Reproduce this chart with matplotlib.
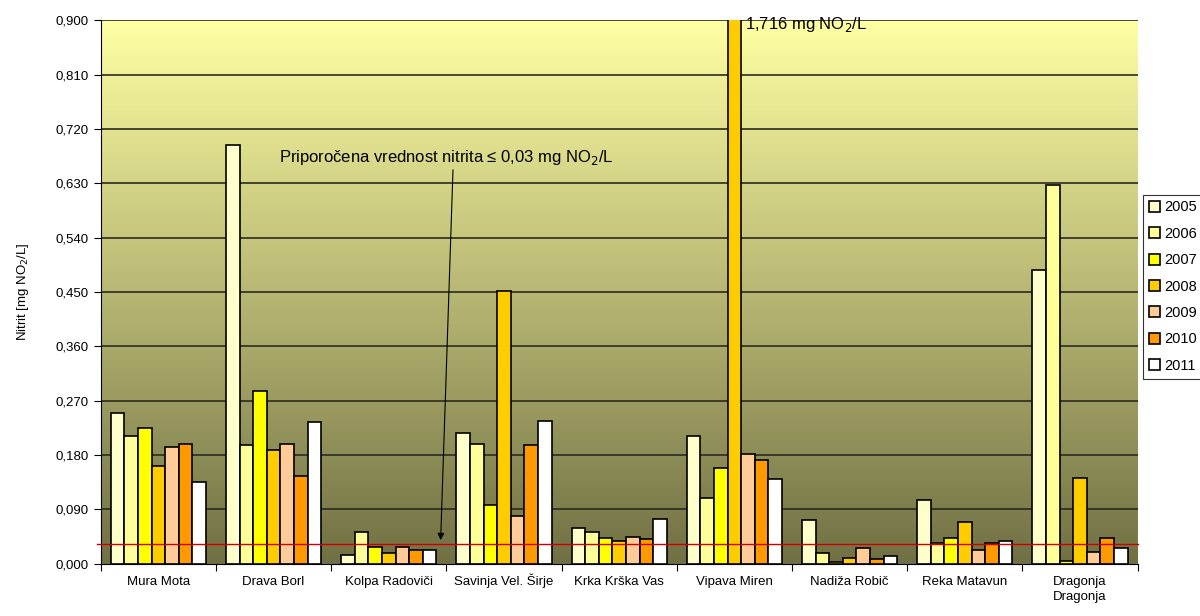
import numpy as np
import matplotlib
matplotlib.use('Agg')
import matplotlib.pyplot as plt
from matplotlib.colors import LinearSegmentedColormap

plt.rcParams['font.family'] = ['Liberation Sans', 'DejaVu Sans']

##-----     DATA     -----
stations = ['Mura Mota', 'Drava Borl', 'Kolpa Radoviči', 'Savinja Vel. Širje',
            'Krka Krška Vas', 'Vipava Miren', 'Nadiža Robič', 'Reka Matavun',
            'Dragonja\nDragonja']
years = ['2005', '2006', '2007', '2008', '2009', '2010', '2011']
v2005 = [0.249, 0.693, 0.015, 0.216, 0.059, 0.211, 0.073, 0.106, 0.486]
v2006 = [0.211, 0.196, 0.052, 0.198, 0.052, 0.109, 0.017, 0.034, 0.628]
v2007 = [0.224, 0.286, 0.027, 0.097, 0.042, 0.158, 0.002, 0.042, 0.005]
v2008 = [0.162, 0.188, 0.018, 0.451, 0.037, 1.716, 0.010, 0.069, 0.142]
v2009 = [0.194, 0.198, 0.027, 0.079, 0.044, 0.182, 0.026, 0.023, 0.020]
v2010 = [0.198, 0.145, 0.022, 0.196, 0.040, 0.172, 0.007, 0.035, 0.042]
v2011 = [0.135, 0.234, 0.023, 0.237, 0.074, 0.141, 0.013, 0.038, 0.026]
series = [v2005, v2006, v2007, v2008, v2009, v2010, v2011]
colors = ['#FFFFCC', '#FFFF99', '#FFFF00', '#FFCC00', '#FFCC99', '#FF9900', '#FFFFFF']
limit = 0.033
ymax = 0.9

##-----     FIGURE     -----
fig = plt.figure(figsize=(12, 6.16), dpi=100)
ax = fig.add_axes([0.084, 0.085, 0.864, 0.882])

n = len(stations)
ax.set_xlim(0, n)
ax.set_ylim(0, ymax)

# gradient background
cmap = LinearSegmentedColormap.from_list('bg', ['#707044', '#FFFFA4'])
grad = np.linspace(0, 1, 256).reshape(-1, 1)
ax.imshow(grad, extent=[0, n, 0, ymax], aspect='auto', cmap=cmap,
          origin='lower', zorder=0)

# grid
yt = np.arange(0, ymax + 0.001, 0.09)
for y in yt[1:]:
    ax.axhline(y, color='#2b2b20', lw=1.2, zorder=1)

bw = 0.118
x = np.arange(n) + 0.5
for k, vals in enumerate(series):
    pos = x + (k - 3) * bw
    ax.bar(pos, vals, width=bw, color=colors[k], edgecolor='black',
           linewidth=1.2, zorder=3, label=years[k])

ax.axhline(limit, color='#CC0000', lw=1, zorder=4, xmin=-0.004, clip_on=False)

ax.set_yticks(yt)
ax.set_yticklabels([('%.3f' % t).replace('.', ',') for t in yt], fontsize=9.5)
ax.set_xticks(np.arange(n + 1))
ax.set_xticklabels([])
ax.tick_params(axis='x', which='major', length=5, direction='out')
ax.tick_params(axis='y', length=5, direction='out')
# category labels on a common baseline
for xi, name in zip(x, stations):
    for j, line in enumerate(name.split('\n')):
        ax.text(xi, -0.0355 - j * 0.024, line, fontsize=9.5, ha='center',
                va='baseline', clip_on=False)
ax.set_ylabel('Nitrit [mg NO$_2$/L]', fontsize=9.5, labelpad=18)

for s in ['top', 'right']:
    ax.spines[s].set_visible(False)

# annotations
ax.text(5.5 + bw / 2 + 0.03, 0.893, '1,716 mg NO$_2$/L', fontsize=12,
        va='center', ha='left', zorder=5)
ax.annotate('Priporočena vrednost nitrita ≤ 0,03 mg NO$_2$/L',
            xy=(2.95, limit + 0.006), xytext=(3.0, 0.657),
            fontsize=12, ha='center', va='bottom', zorder=5,
            arrowprops=dict(arrowstyle='-|>', color='black', lw=0.8,
                            mutation_scale=10, shrinkA=0, shrinkB=0,
                            relpos=(0.52, 0.0)))

leg = ax.legend(loc='center left', bbox_to_anchor=(1.005, 0.51), fontsize=10.5,
                frameon=True, fancybox=False, edgecolor='black',
                handlelength=0.8, handleheight=0.8, handletextpad=0.3,
                labelspacing=0.85, borderpad=0.4, borderaxespad=0)
leg.get_frame().set_linewidth(0.8)

fig.savefig('out.png', dpi=100)
